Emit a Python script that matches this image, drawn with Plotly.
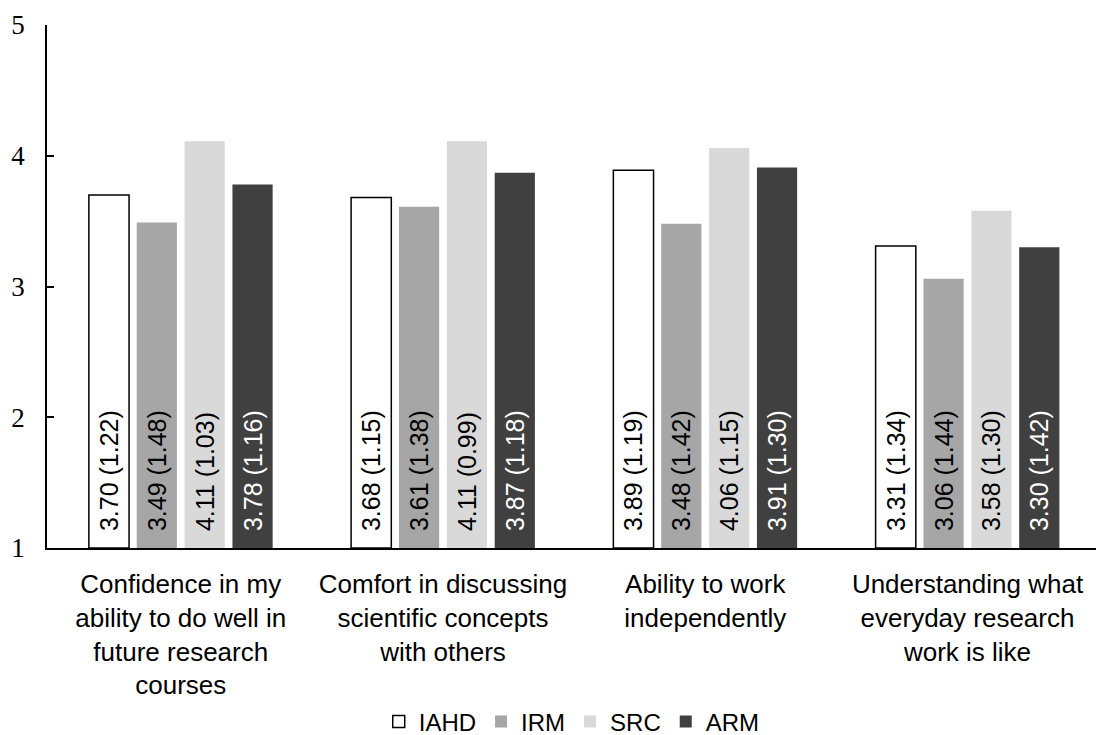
import plotly.graph_objects as go

categories = [
    "Confidence in my<br>ability to do well in<br>future research<br>courses",
    "Comfort in discussing<br>scientific concepts<br>with others",
    "Ability to work<br>independently",
    "Understanding what<br>everyday research<br>work is like",
]
groups = ["IAHD", "IRM", "SRC", "ARM"]
means = {
    "IAHD": [3.70, 3.68, 3.89, 3.31],
    "IRM": [3.49, 3.61, 3.48, 3.06],
    "SRC": [4.11, 4.11, 4.06, 3.58],
    "ARM": [3.78, 3.87, 3.91, 3.30],
}
sds = {
    "IAHD": [1.22, 1.15, 1.19, 1.34],
    "IRM": [1.48, 1.38, 1.42, 1.44],
    "SRC": [1.03, 0.99, 1.15, 1.30],
    "ARM": [1.16, 1.18, 1.30, 1.42],
}
fills = {"IAHD": "#ffffff", "IRM": "#a6a6a6", "SRC": "#d9d9d9", "ARM": "#404040"}
outlines = {"IAHD": "#000000", "IRM": "rgba(0,0,0,0)", "SRC": "rgba(0,0,0,0)", "ARM": "rgba(0,0,0,0)"}
text_colors = {"IAHD": "#000000", "IRM": "#000000", "SRC": "#000000", "ARM": "#ffffff"}

BASE = 1
SANS = "Liberation Sans, Arial, sans-serif"
SERIF = "Liberation Serif, Times New Roman, serif"
PAD = "\u00a0\u00a0"  # lifts the in-bar labels off the baseline

fig = go.Figure()
for g in groups:
    fig.add_trace(go.Bar(
        name=g,
        x=categories,
        y=[m - BASE for m in means[g]],
        base=BASE,
        marker=dict(color=fills[g], line=dict(color=outlines[g], width=1.5)),
        text=[f"{PAD}{m:.2f} ({s:.2f})" for m, s in zip(means[g], sds[g])],
        textposition="inside",
        insidetextanchor="start",
        textangle=-90,
        constraintext="none",
        textfont=dict(family=SANS, size=25, color=text_colors[g]),
        hoverinfo="skip",
    ))

fig.update_layout(
    width=1108,
    height=735,
    margin=dict(l=47, r=12, t=25, b=187, autoexpand=False),
    paper_bgcolor="white",
    plot_bgcolor="white",
    barmode="group",
    bargap=0.27,
    bargroupgap=0.16,
    showlegend=True,
    legend=dict(
        orientation="h",
        x=0.516,
        xanchor="center",
        xref="container",
        y=13 / 735,
        yanchor="middle",
        yref="container",
        font=dict(family=SANS, size=24, color="black"),
        itemwidth=30,
        traceorder="normal",
    ),
    font=dict(family=SANS, color="black"),
)

fig.update_xaxes(
    range=[-0.51, 3.49],
    showline=True,
    linecolor="black",
    linewidth=1.5,
    ticks="",
    automargin=False,
    ticklabelstandoff=12,
    tickfont=dict(family=SANS, size=26, color="black"),
    showgrid=False,
)
fig.update_yaxes(
    range=[1, 5],
    tickvals=[1, 2, 3, 4, 5],
    showline=True,
    linecolor="black",
    linewidth=1.5,
    ticks="inside",
    ticklen=7,
    tickcolor="black",
    tickwidth=1.5,
    showgrid=False,
    zeroline=False,
    automargin=False,
    tickfont=dict(family=SERIF, size=27, color="black"),
    ticklabelstandoff=15,
)

fig.write_html("out.html")
